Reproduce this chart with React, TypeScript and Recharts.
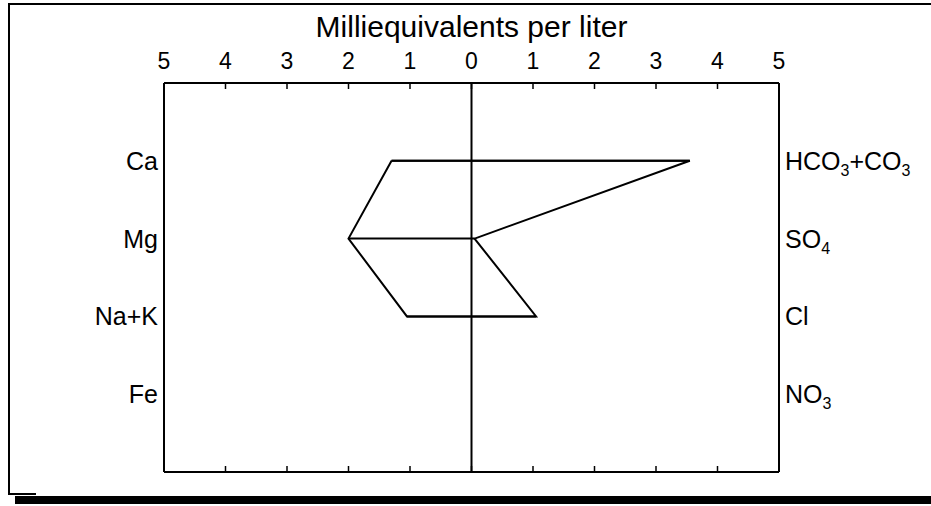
import React from 'react';
import { ScatterChart, Scatter, XAxis, YAxis, ReferenceLine } from 'recharts';

// ---- data ----
const cations = ['Ca', 'Mg', 'Na+K', 'Fe'];
const anions = ['HCO_3+CO_3', 'SO_4', 'Cl', 'NO_3'];
const cationMeq: (number | null)[] = [1.3, 2.0, 1.05, null];
const anionMeq: (number | null)[] = [3.55, 0.05, 1.05, null];
const scaleTicks = [-5, -4, -3, -2, -1, 0, 1, 2, 3, 4, 5];
const rowTicks = [1, 2, 3, 4];
const title = 'Milliequivalents per liter';

const FONT = '"Liberation Sans", Arial, Helvetica, sans-serif';

const rows = cations
  .map((c, i) => ({ row: i + 1, cat: cationMeq[i], an: anionMeq[i] }))
  .filter((r) => r.cat != null && r.an != null) as { row: number; cat: number; an: number }[];

const polygon = [
  ...rows.map((r) => ({ x: -r.cat, y: r.row })),
  ...rows.slice().reverse().map((r) => ({ x: r.an, y: r.row })),
];
polygon.push(polygon[0]);

const rowLines = rows.map((r) => [
  { x: -r.cat, y: r.row },
  { x: r.an, y: r.row },
]);

const noShape = () => <g />;

const TopTick = (props: any) => {
  const { x, y, payload } = props;
  return (
    <g>
      <line x1={x} y1={y} x2={x} y2={y + 6} stroke="#000" strokeWidth={1.5} />
      <text x={x} y={y - 14} textAnchor="middle" fontFamily={FONT} fontSize={23} fill="#000">
        {Math.abs(payload.value)}
      </text>
    </g>
  );
};

const BottomTick = (props: any) => {
  const { x, y, payload } = props;
  if (Math.abs(payload.value) === 5) return <g />;
  return <line x1={x} y1={y} x2={x} y2={y - 6} stroke="#000" strokeWidth={1.5} />;
};

const LeftTick = (props: any) => {
  const { x, y, payload } = props;
  return (
    <text x={x - 6} y={y + 9} textAnchor="end" fontFamily={FONT} fontSize={25} fill="#000">
      {cations[payload.value - 1]}
    </text>
  );
};

const renderChem = (label: string) => {
  const parts = label.split(/_(\d)/);
  const out: React.ReactNode[] = [];
  let shifted = false;
  parts.forEach((p, i) => {
    if (p === '') return;
    if (i % 2 === 1) {
      out.push(
        <tspan key={i} fontSize={16} dy={shifted ? 0 : 6}>
          {p}
        </tspan>
      );
      shifted = true;
    } else {
      out.push(
        <tspan key={i} dy={shifted ? -6 : 0}>
          {p}
        </tspan>
      );
      shifted = false;
    }
  });
  return out;
};

const RightTick = (props: any) => {
  const { x, y, payload } = props;
  return (
    <text x={x + 6} y={y + 9} textAnchor="start" fontFamily={FONT} fontSize={25} fill="#000">
      {renderChem(anions[payload.value - 1])}
    </text>
  );
};

const TitleLabel = (props: any) => {
  const vb = props.viewBox || {};
  const cx = (vb.x || 0) + (vb.width || 0) / 2;
  return (
    <text x={cx} y={37} textAnchor="middle" fontFamily={FONT} fontSize={30} fill="#000">
      {title}
    </text>
  );
};

const axisLine = { stroke: '#000', strokeWidth: 2 };

export default function App() {
  return (
    <div style={{ position: 'absolute', left: 0, top: 0, width: 931, height: 506, background: '#fff' }}>
      {/* outer scanned frame */}
      <div style={{ position: 'absolute', left: 8, top: 3, width: 2, height: 492, background: '#000' }} />
      <div style={{ position: 'absolute', left: 8, top: 3, width: 923, height: 2, background: '#000' }} />
      <div style={{ position: 'absolute', left: 8, top: 493, width: 28, height: 2, background: '#000' }} />
      <div style={{ position: 'absolute', left: 15, top: 496, width: 916, height: 8, background: '#000' }} />
      <div style={{ position: 'absolute', left: 0, top: 0 }}>
        <ScatterChart width={931} height={506} margin={{ top: 82, right: 151, bottom: 33, left: 163 }}>
          <XAxis
            xAxisId="top"
            orientation="top"
            type="number"
            dataKey="x"
            domain={[-5, 5]}
            ticks={scaleTicks}
            interval={0}
            height={1}
            tickSize={0}
            tickMargin={0}
            tickLine={false}
            axisLine={axisLine}
            tick={TopTick}
            allowDataOverflow
            label={{ content: TitleLabel }}
          />
          <XAxis
            xAxisId="bottom"
            orientation="bottom"
            type="number"
            dataKey="x"
            domain={[-5, 5]}
            ticks={scaleTicks}
            interval={0}
            height={1}
            tickSize={0}
            tickMargin={0}
            tickLine={false}
            axisLine={axisLine}
            tick={BottomTick}
            allowDataOverflow
          />
          <YAxis
            yAxisId="left"
            orientation="left"
            type="number"
            dataKey="y"
            domain={[0, 5]}
            reversed
            ticks={rowTicks}
            interval={0}
            width={1}
            tickSize={0}
            tickMargin={0}
            tickLine={false}
            axisLine={axisLine}
            tick={LeftTick}
            allowDataOverflow
          />
          <YAxis
            yAxisId="right"
            orientation="right"
            type="number"
            dataKey="y"
            domain={[0, 5]}
            reversed
            ticks={rowTicks}
            interval={0}
            width={1}
            tickSize={0}
            tickMargin={0}
            tickLine={false}
            axisLine={axisLine}
            tick={RightTick}
            allowDataOverflow
          />
          <ReferenceLine xAxisId="top" yAxisId="left" x={0} stroke="#000" strokeWidth={2} />
          <Scatter
            xAxisId="top"
            yAxisId="left"
            data={polygon}
            line={{ stroke: '#000', strokeWidth: 2 }}
            shape={noShape}
            isAnimationActive={false}
          />
          {rowLines.map((d, i) => (
            <Scatter
              key={i}
              xAxisId="bottom"
              yAxisId="right"
              data={d}
              line={{ stroke: '#000', strokeWidth: 2 }}
              shape={noShape}
              isAnimationActive={false}
            />
          ))}
        </ScatterChart>
      </div>
    </div>
  );
}
